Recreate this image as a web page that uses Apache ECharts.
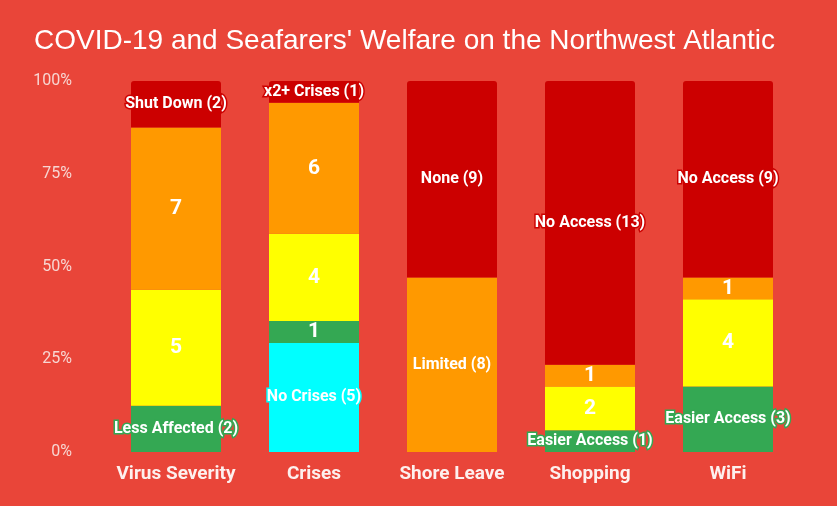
<!DOCTYPE html>
<html>
<head>
<meta charset="utf-8">
<script src="https://cdn.jsdelivr.net/npm/echarts@6/dist/echarts.min.js"></script>
<style>
  html, body { margin: 0; padding: 0; background: #E94539; }
  #chart { width: 837px; height: 506px; }
</style>
</head>
<body>
<div id="chart"></div>
<script>
// Survey categories along the x axis
const categories = ['Virus Severity', 'Crises', 'Shore Leave', 'Shopping', 'WiFi'];

// Response counts per category, one array per colour band (bottom to top)
const cyanCounts   = [0, 5, 0, 0, 0];
const greenCounts  = [2, 1, 0, 1, 3];
const yellowCounts = [5, 4, 0, 2, 4];
const orangeCounts = [7, 6, 8, 1, 1];
const redCounts    = [2, 1, 9, 13, 9];

// Named answers shown next to their counts ('' means count only)
const cyanNames   = ['', 'No Crises', '', '', ''];
const greenNames  = ['Less Affected', '', '', 'Easier Access', 'Easier Access'];
const yellowNames = ['', '', '', '', ''];
const orangeNames = ['', '', 'Limited', '', ''];
const redNames    = ['Shut Down', 'x2+ Crises', 'None', 'No Access', 'No Access'];

// Y axis tick values (percent)
const yTicks = [0, 25, 50, 75, 100];

const bands = [
  { counts: cyanCounts,   names: cyanNames,   color: '#00FFFF' },
  { counts: greenCounts,  names: greenNames,  color: '#34A853' },
  { counts: yellowCounts, names: yellowNames, color: '#FFFF00' },
  { counts: orangeCounts, names: orangeNames, color: '#FF9900' },
  { counts: redCounts,    names: redNames,    color: '#CC0000' }
];

const totals = categories.map((_, i) => bands.reduce((s, b) => s + b.counts[i], 0));

const series = bands.map((b, bi) => ({
  type: 'bar',
  stack: 'all',
  barWidth: 90,
  itemStyle: {
    color: b.color,
    borderRadius: bi === bands.length - 1 ? [3, 3, 0, 0] : 0
  },
  data: b.counts.map((c, i) => {
    if (!c) return null;
    const named = b.names[i] !== '';
    return {
      value: c / totals[i] * 100,
      label: {
        show: true,
        position: 'inside',
        formatter: named ? b.names[i] + ' (' + c + ')' : String(c),
        color: '#FFFFFF',
        fontFamily: 'Roboto',
        fontWeight: 'bold',
        fontSize: named ? 16 : 21,
        textBorderColor: named ? b.color : 'transparent',
        textBorderWidth: named ? 3 : 0
      }
    };
  })
}));

const chart = echarts.init(document.getElementById('chart'));
chart.setOption({
  backgroundColor: '#E94539',
  animation: false,
  title: {
    text: "COVID-19 and Seafarers' Welfare on the Northwest Atlantic",
    left: 29,
    top: 22,
    textStyle: {
      color: '#FFFFFF',
      fontFamily: 'Liberation Sans',
      fontWeight: 'normal',
      fontSize: 28
    }
  },
  grid: { left: 107, right: 40, top: 81, bottom: 54 },
  xAxis: {
    type: 'category',
    data: categories,
    axisLine: { show: false },
    axisTick: { show: false },
    axisLabel: {
      interval: 0,
      color: '#FDF0EE',
      fontFamily: 'Roboto',
      fontWeight: 'bold',
      fontSize: 19,
      margin: 13
    }
  },
  yAxis: {
    type: 'value',
    min: yTicks[0],
    max: yTicks[yTicks.length - 1],
    interval: 25,
    splitLine: { show: false },
    axisLine: { show: false },
    axisTick: { show: false },
    axisLabel: {
      color: '#F7D6D2',
      fontFamily: 'Roboto',
      fontSize: 16,
      margin: 35,
      formatter: '{value}%'
    }
  },
  series: series
});
</script>
</body>
</html>
